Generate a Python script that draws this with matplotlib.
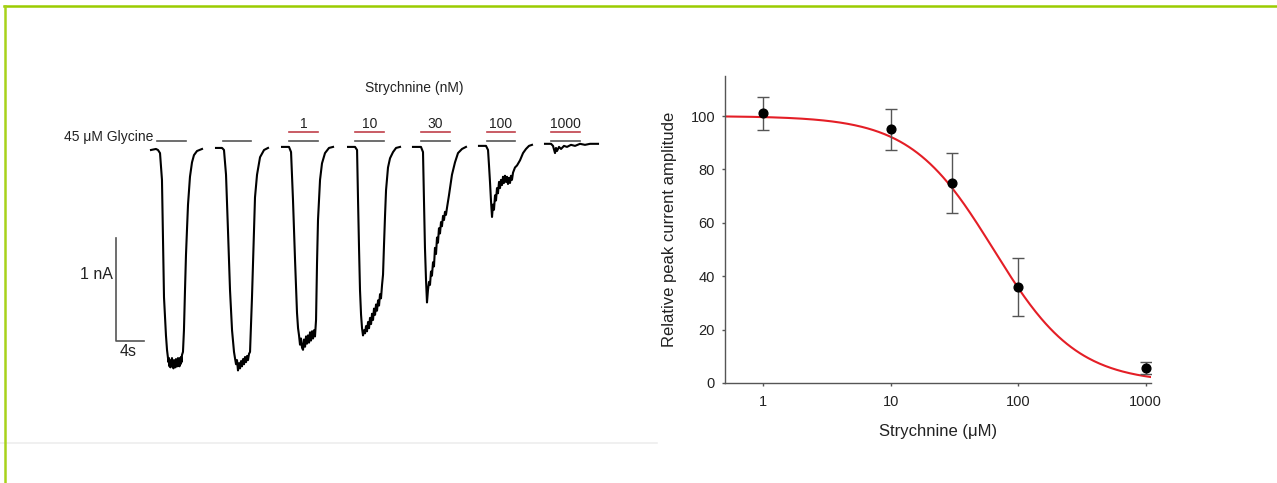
import numpy as np
import matplotlib
matplotlib.use('Agg')
import matplotlib.pyplot as plt
from matplotlib.lines import Line2D

plt.rcParams['font.family'] = ['Liberation Sans', 'DejaVu Sans']

# --- left panel: whole-cell current traces (time in s from trace start, current in nA) ---
trace_onsets = [0.14, 9.43, 18.86, 28.29, 37.57, 47.0, 56.43]

t1 = [0.00, 0.71, 1.00, 1.29, 1.57, 1.86, 2.14, 2.29, 2.43, 2.50, 2.57, 2.64, 2.71, 2.79, 2.86, 2.93,
      3.00, 3.07, 3.14, 3.21, 3.29, 3.36, 3.43, 3.50, 3.57, 3.64, 3.71, 3.79, 3.86, 3.93, 4.00, 4.07,
      4.14, 4.21, 4.29, 4.36, 4.43, 4.57, 4.71, 4.86, 5.00, 5.14, 5.29, 5.57, 5.86, 6.14, 6.57, 7.29]
i1 = [0.00, 0.01, 0.00, -0.03, -0.29, -1.43, -1.80, -1.94, -2.02, -2.06, -2.02, -2.10, -2.04, -2.11, -2.05, -2.09,
      -2.02, -2.10, -2.06, -2.12, -2.04, -2.10, -2.05, -2.11, -2.03, -2.09, -2.04, -2.10, -2.02, -2.08, -2.03, -2.10,
      -2.02, -2.08, -2.01, -2.06, -1.99, -1.96, -1.75, -1.36, -1.02, -0.78, -0.53, -0.26, -0.12, -0.05, -0.01, 0.01]

t2 = [0.00, 0.86, 1.14, 1.43, 1.71, 2.00, 2.29, 2.57, 2.71, 2.86, 3.00, 3.14, 3.29, 3.43, 3.57, 3.71,
      3.86, 4.00, 4.14, 4.29, 4.43, 4.57, 4.71, 4.86, 5.14, 5.57, 5.86, 6.29, 6.86, 7.43]
i2 = [0.02, 0.02, 0.00, -0.24, -0.78, -1.36, -1.75, -1.96, -2.02, -2.08, -2.04, -2.14, -2.07, -2.12, -2.05, -2.10,
      -2.03, -2.08, -2.01, -2.06, -2.00, -2.04, -1.98, -1.96, -1.43, -0.46, -0.24, -0.07, 0.00, 0.02]

t3 = [0.00, 1.00, 1.29, 1.57, 1.86, 2.14, 2.29, 2.43, 2.57, 2.71, 2.86, 3.00, 3.14, 3.29, 3.43, 3.57,
      3.71, 3.86, 4.00, 4.14, 4.29, 4.43, 4.57, 4.71, 4.86, 5.00, 5.14, 5.43, 5.71, 6.14, 6.71, 7.29]
i3 = [0.03, 0.03, -0.02, -0.49, -1.07, -1.58, -1.73, -1.80, -1.89, -1.83, -1.92, -1.94, -1.84, -1.91, -1.81, -1.88,
      -1.80, -1.87, -1.77, -1.85, -1.76, -1.83, -1.75, -1.81, -1.65, -1.10, -0.68, -0.29, -0.13, -0.03, 0.02, 0.03]

t4 = [0.00, 1.00, 1.29, 1.43, 1.57, 1.71, 1.86, 2.00, 2.14, 2.29, 2.43, 2.57, 2.71, 2.86, 3.00, 3.14,
      3.29, 3.43, 3.57, 3.71, 3.86, 4.00, 4.14, 4.29, 4.43, 4.57, 4.71, 4.86, 5.00, 5.14, 5.29, 5.43,
      5.71, 6.00, 6.43, 6.86, 7.43]
i4 = [0.03, 0.03, 0.00, -0.49, -0.95, -1.36, -1.60, -1.73, -1.80, -1.75, -1.78, -1.71, -1.76, -1.67, -1.73, -1.63,
      -1.69, -1.59, -1.65, -1.54, -1.60, -1.50, -1.56, -1.46, -1.51, -1.40, -1.44, -1.31, -1.21, -0.92, -0.63, -0.39,
      -0.17, -0.08, -0.02, 0.02, 0.03]

t5 = [0.00, 1.14, 1.43, 1.57, 1.71, 1.86, 2.00, 2.14, 2.29, 2.43, 2.57, 2.71, 2.86, 3.00, 3.14, 3.29,
      3.43, 3.57, 3.71, 3.86, 4.00, 4.14, 4.29, 4.43, 4.57, 4.71, 4.86, 5.14, 5.29, 5.57, 6.00, 6.43,
      7.00, 7.57]
i5 = [0.03, 0.03, -0.02, -0.49, -0.95, -1.26, -1.48, -1.36, -1.28, -1.31, -1.18, -1.22, -1.09, -1.13, -0.95, -1.01,
      -0.85, -0.90, -0.76, -0.81, -0.70, -0.74, -0.64, -0.68, -0.60, -0.63, -0.56, -0.44, -0.37, -0.24, -0.12, -0.03,
      0.01, 0.03]

t6 = [0.00, 1.00, 1.29, 1.43, 1.57, 1.71, 1.86, 2.00, 2.14, 2.29, 2.43, 2.57, 2.71, 2.86, 3.00, 3.14,
      3.29, 3.43, 3.57, 3.71, 3.86, 4.00, 4.14, 4.29, 4.43, 4.57, 4.71, 4.86, 5.14, 5.43, 5.86, 6.29,
      6.71, 7.14, 7.57]
i6 = [0.04, 0.04, 0.00, -0.15, -0.31, -0.49, -0.65, -0.53, -0.58, -0.44, -0.49, -0.37, -0.42, -0.31, -0.37, -0.29,
      -0.34, -0.26, -0.32, -0.25, -0.31, -0.26, -0.33, -0.27, -0.32, -0.25, -0.29, -0.22, -0.17, -0.15, -0.10, -0.03,
      0.01, 0.04, 0.05]

t7 = [0.00, 0.86, 1.14, 1.43, 1.57, 1.71, 2.00, 2.29, 2.71, 3.14, 3.71, 4.29, 5.00, 5.71, 6.43, 7.57]
i7 = [0.06, 0.06, 0.04, -0.03, 0.02, -0.01, 0.03, 0.01, 0.04, 0.03, 0.05, 0.04, 0.06, 0.05, 0.06, 0.06]

traces = [(t1, i1), (t2, i2), (t3, i3), (t4, i4), (t5, i5), (t6, i6), (t7, i7)]

# application bars (absolute s)
glycine_start = [1.0, 10.4, 19.9, 29.3, 38.7, 48.1, 57.3]
glycine_dur = 4.1
strych_labels = ['', '', '1', '10', '30', '100', '1000']

# --- right panel: concentration-response ---
conc = [1, 10, 30, 100, 1000]
amp = [101, 95, 75, 36, 5.5]
sem = [6.3, 7.8, 11.3, 10.8, 2.3]
ic50 = 64.0
hill_n = 1.33

W, H = 1277, 483
fig = plt.figure(figsize=(W / 100, H / 100), dpi=100)

# left axes spans the left image area, data in s / nA
ax1 = fig.add_axes([0, 0, 657 / W, 1])
ax1.axis('off')
ax1.set_xlim(-150 / 7, 507 / 7)
ax1.set_ylim(-333 / 103, 150 / 103)

for onset, (t, cur) in zip(trace_onsets, traces):
    ax1.plot(np.array(t) + onset, cur, color='black', lw=1.5)

bar_y = 0.087
red_y = 0.175
for start, lab in zip(glycine_start, strych_labels):
    ax1.plot([start, start + glycine_dur], [bar_y, bar_y], color='#555555', lw=1.2)
    if lab:
        ax1.plot([start, start + glycine_dur], [red_y, red_y], color='#c0404a', lw=1.2)
        ax1.text(start + glycine_dur / 2, 0.25, lab, ha='center', va='center', fontsize=10, color='#222222')

ax1.text(0.43, 0.126, '45 μM Glycine', ha='right', va='center', fontsize=10, color='#222222')
ax1.text(37.7, 0.60, 'Strychnine (nM)', ha='center', va='center', fontsize=10, color='#222222')

# scale bar: 1 nA, 4 s
sb_x, sb_y = -4.86, -1.854
ax1.plot([sb_x, sb_x, sb_x + 4], [sb_y + 1, sb_y, sb_y], color='#555555', lw=1.2)
ax1.text(sb_x - 0.45, sb_y + 0.65, '1 nA', ha='right', va='center', fontsize=11.5, color='#222222')
ax1.text(sb_x + 1.7, sb_y - 0.105, '4s', ha='center', va='center', fontsize=11.5, color='#222222')

# right axes
ax2 = fig.add_axes([725 / W, (H - 383) / H, 426 / W, 307 / H])
xs = np.logspace(np.log10(0.5), np.log10(1100), 300)
fit = 100 / (1 + (xs / ic50) ** hill_n)
ax2.plot(xs, fit, color='#e41e26', lw=1.5, zorder=2)
ax2.errorbar(conc, amp, yerr=sem, fmt='o', color='black', ms=6.3, ecolor='#555555',
             elinewidth=1, capsize=4, capthick=1, zorder=3)
ax2.set_xscale('log')
ax2.set_xlim(0.5, 1100)
ax2.set_ylim(0, 115)
ax2.set_xticks([1, 10, 100, 1000])
ax2.set_xticklabels(['1', '10', '100', '1000'])
ax2.xaxis.set_minor_locator(matplotlib.ticker.NullLocator())
ax2.set_yticks([0, 20, 40, 60, 80, 100])
for s in ['top', 'right']:
    ax2.spines[s].set_visible(False)
for s in ['left', 'bottom']:
    ax2.spines[s].set_color('#555555')
    ax2.spines[s].set_linewidth(1.0)
ax2.tick_params(axis='both', length=2.5, width=1, color='#555555', labelsize=10.5, labelcolor='#222222')
ax2.tick_params(axis='x', pad=6)
ax2.tick_params(axis='y', pad=4.7)
ax2.set_ylabel('Relative peak current amplitude', fontsize=12, color='#222222')
ax2.set_xlabel('Strychnine (μM)', fontsize=12, color='#222222')
ax2.yaxis.set_label_coords(-0.112, 0.5)
ax2.xaxis.set_label_coords(0.5, -0.135)

# frame details
fig.add_artist(Line2D([0, 657 / W], [1 - 443 / H] * 2, color='#eeeeee', lw=1.2, transform=fig.transFigure))
fig.add_artist(Line2D([4 / W, 1], [1 - 5.5 / H] * 2, color='#9bcc00', lw=1.8, transform=fig.transFigure))
fig.add_artist(Line2D([5 / W] * 2, [0, 1 - 5.5 / H], color='#a8d21a', lw=1.8, transform=fig.transFigure))

fig.savefig('out.png', dpi=100)
